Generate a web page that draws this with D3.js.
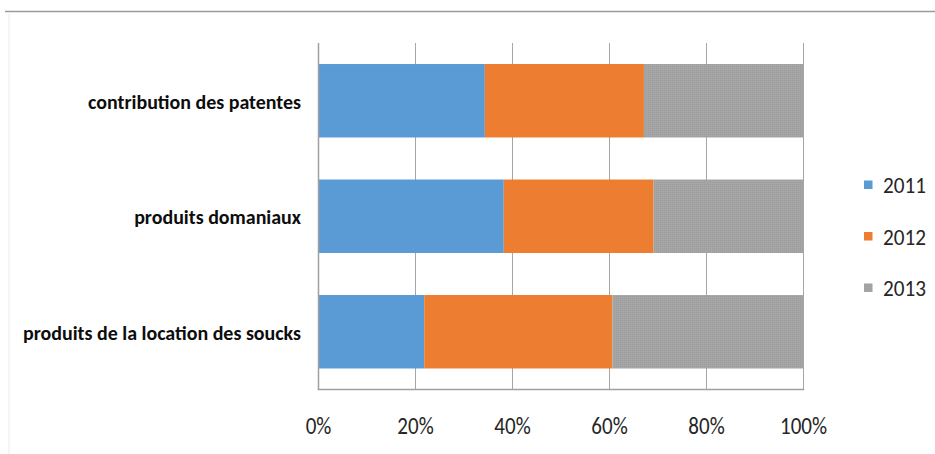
<!DOCTYPE html>
<html>
<head>
<meta charset="utf-8">
<script src="https://cdn.jsdelivr.net/npm/d3@7"></script>
<style>
  body { margin: 0; background: #fff; }
  svg { display: block; }
  text { font-family: Carlito, Lato, "Open Sans", sans-serif; }
</style>
</head>
<body>
<div id="chart"></div>
<script>
// values (share of each year, per line)
const categories = ["contribution des patentes", "produits domaniaux", "produits de la location des soucks"];
const years = ["2011", "2012", "2013"];
const values2011 = [34.3, 38.2, 21.8];
const values2012 = [32.8, 30.9, 38.8];
const values2013 = [32.9, 30.9, 39.4];
const tickValues = [0, 0.2, 0.4, 0.6, 0.8, 1];
const colors = ["#5b9bd5", "#ed7d31", "#a5a5a5"];

const width = 935, height = 454;
const plot = { left: 318.5, right: 803.5, top: 43, bottom: 389.5 };

const svg = d3.select("#chart").append("svg")
    .attr("width", width)
    .attr("height", height);

// fine dotted texture on the grey series
const pat = svg.append("defs").append("pattern")
    .attr("id", "dots")
    .attr("width", 2).attr("height", 2)
    .attr("patternUnits", "userSpaceOnUse");
pat.append("rect").attr("width", 2).attr("height", 2).attr("fill", "#a6a6a6");
pat.append("rect").attr("width", 1).attr("height", 1).attr("fill", "#9b9b9b");
const fillFor = i => i === 2 ? "url(#dots)" : colors[i];

// squeeze a group of texts so the widest one matches a width (Calibri is narrow)
function squeeze(sel, widest) {
    const max = d3.max(sel.nodes(), n => n.getComputedTextLength());
    const k = Math.min(1, widest / max);
    sel.each(function () {
        const w = this.getComputedTextLength();
        d3.select(this).attr("textLength", w * k).attr("lengthAdjust", "spacingAndGlyphs");
    });
}

// chart frame: top rule and faint left edge
svg.append("line")
    .attr("x1", 5).attr("x2", width).attr("y1", 11.5).attr("y2", 11.5)
    .attr("stroke", "#9a9a9a").attr("stroke-width", 1.5);
svg.append("line")
    .attr("x1", 9).attr("x2", 9).attr("y1", 12).attr("y2", height)
    .attr("stroke", "#ececec").attr("stroke-width", 1);

const rows = categories.map((c, i) => ({
    category: c, "2011": values2011[i], "2012": values2012[i], "2013": values2013[i]
}));
const series = d3.stack().keys(years).offset(d3.stackOffsetExpand)(rows);

const x = d3.scaleLinear().domain([0, 1]).range([plot.left, plot.right]);
const y = d3.scaleBand().domain(categories).range([plot.top, plot.bottom])
    .paddingInner(0.364).paddingOuter(0.182);

// grid
svg.append("g").selectAll("line")
    .data(tickValues.slice(1))
    .join("line")
    .attr("x1", d => x(d)).attr("x2", d => x(d))
    .attr("y1", plot.top).attr("y2", plot.bottom)
    .attr("stroke", "#a6a6a6").attr("stroke-width", 1);

// bars
svg.append("g").selectAll("g")
    .data(series)
    .join("g")
    .attr("fill", (d, i) => fillFor(i))
    .selectAll("rect")
    .data(d => d)
    .join("rect")
    .attr("x", d => x(d[0]))
    .attr("width", d => x(d[1]) - x(d[0]))
    .attr("y", d => y(d.data.category))
    .attr("height", y.bandwidth());

// axes lines
svg.append("line")
    .attr("x1", plot.left).attr("x2", plot.left)
    .attr("y1", plot.top).attr("y2", plot.bottom)
    .attr("stroke", "#a0a0a0").attr("stroke-width", 1.5);
svg.append("line")
    .attr("x1", plot.left - 0.75).attr("x2", plot.right + 0.75)
    .attr("y1", plot.bottom).attr("y2", plot.bottom)
    .attr("stroke", "#a0a0a0").attr("stroke-width", 1.5);

// x tick labels
const ticks = svg.append("g").selectAll("text")
    .data(tickValues)
    .join("text")
    .attr("x", d => x(d))
    .attr("y", 433.5)
    .attr("text-anchor", "middle")
    .attr("font-size", 25.5)
    .attr("fill", "#262626")
    .text(d3.format(".0%"));
squeeze(ticks, 47);

// category labels
const labels = svg.append("g").selectAll("text")
    .data(categories)
    .join("text")
    .attr("x", 301)
    .attr("y", d => y(d) + y.bandwidth() / 2 + 7.8)
    .attr("text-anchor", "end")
    .attr("font-size", 21)
    .attr("font-weight", "bold")
    .attr("fill", "#0d0d0d")
    .text(d => d);
squeeze(labels, 278);

// legend
const legend = svg.append("g").selectAll("g")
    .data(years)
    .join("g")
    .attr("transform", (d, i) => `translate(864, ${185 + i * 51.5})`);
legend.append("rect")
    .attr("x", 0).attr("y", -4.5)
    .attr("width", 8.5).attr("height", 8.5)
    .attr("fill", (d, i) => fillFor(i));
const legendText = legend.append("text")
    .attr("x", 19).attr("y", 8.3)
    .attr("font-size", 23)
    .attr("fill", "#262626")
    .text(d => d);
squeeze(legendText, 43);
</script>
</body>
</html>
